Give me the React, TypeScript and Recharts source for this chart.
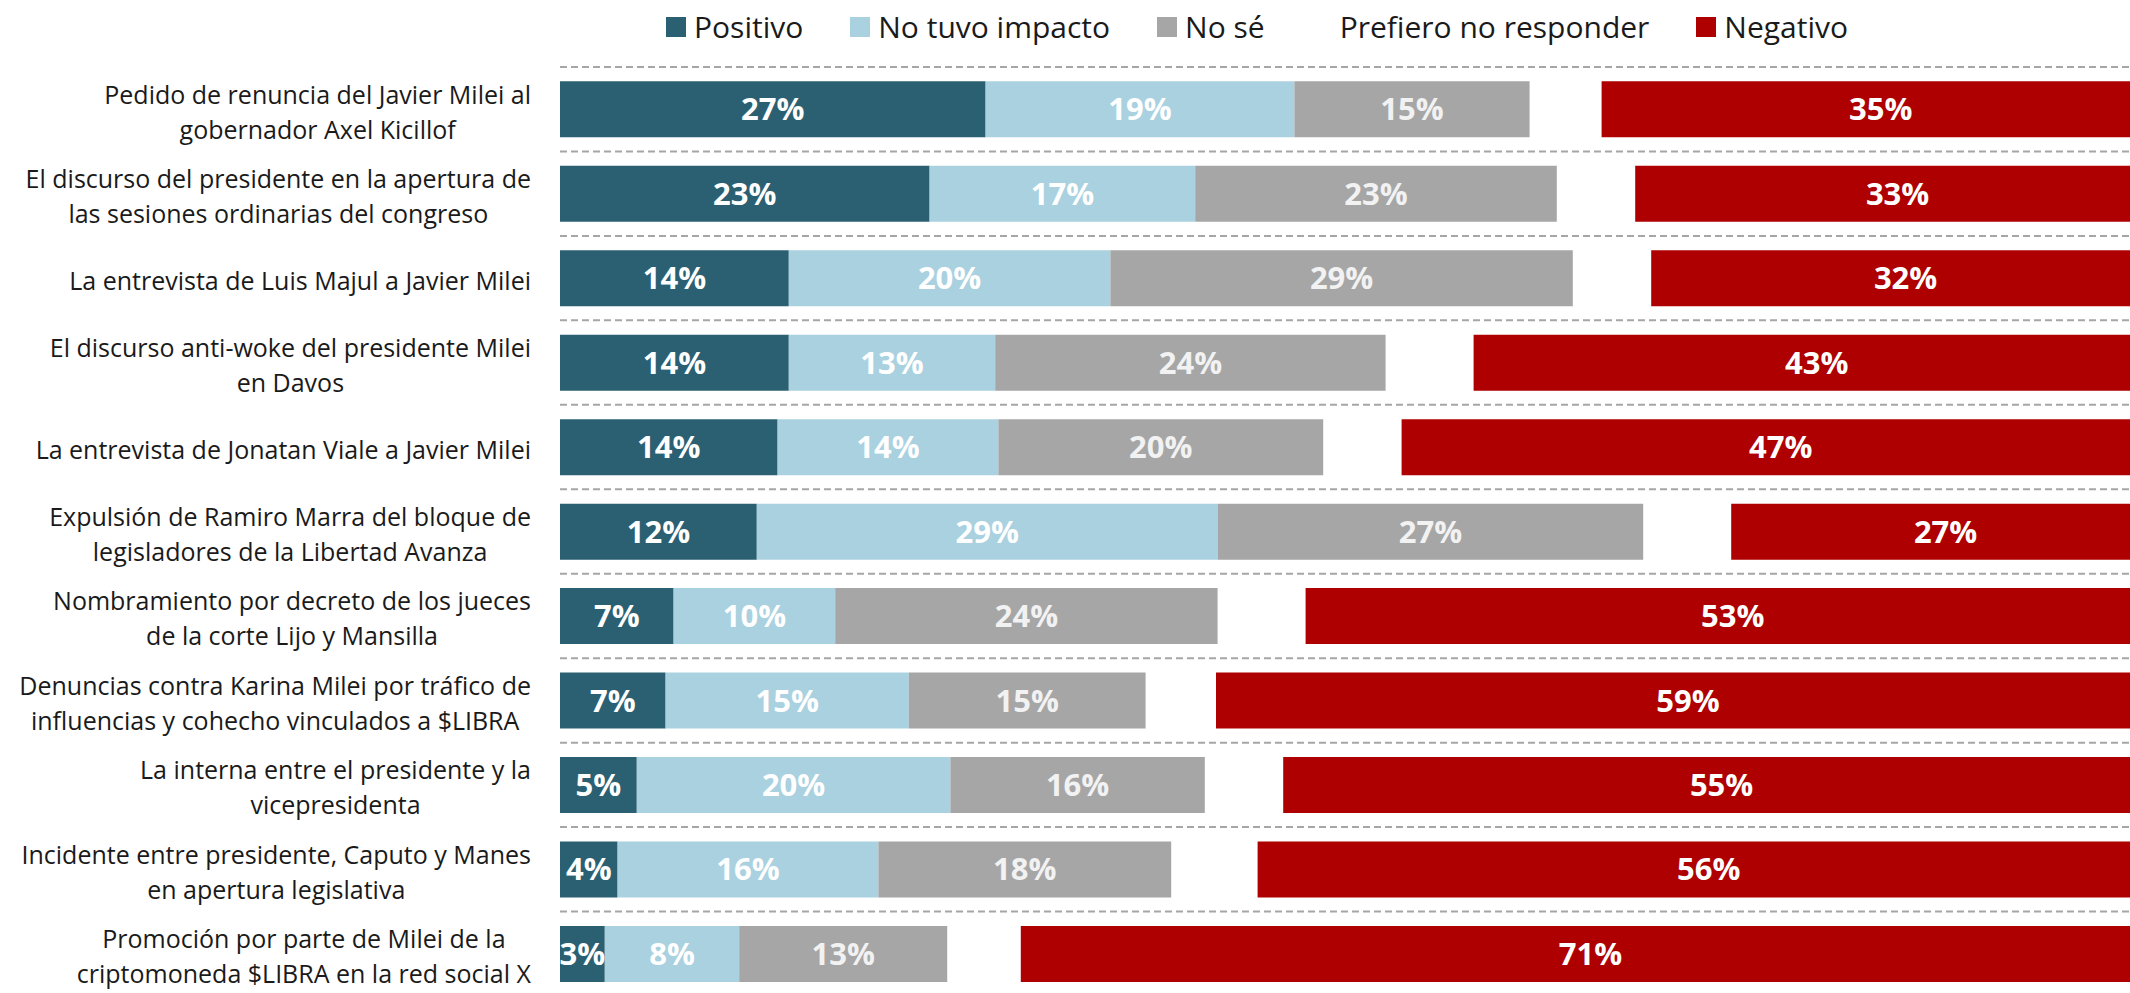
import React from "react";
import { BarChart, Bar, XAxis, YAxis, CartesianGrid, LabelList } from "recharts";

// Events (one per row); "\n" marks where the label wraps
const CATEGORIES = [
    "Pedido de renuncia del Javier Milei al\ngobernador Axel Kicillof",
    "El discurso del presidente en la apertura de\nlas sesiones ordinarias del congreso",
    "La entrevista de Luis Majul a Javier Milei",
    "El discurso anti-woke del presidente Milei\nen Davos",
    "La entrevista de Jonatan Viale a Javier Milei",
    "Expulsión de Ramiro Marra del bloque de\nlegisladores de la Libertad Avanza",
    "Nombramiento por decreto de los jueces\nde la corte Lijo y Mansilla",
    "Denuncias contra Karina Milei por tráfico de\ninfluencias y cohecho vinculados a $LIBRA",
    "La interna entre el presidente y la\nvicepresidenta",
    "Incidente entre presidente, Caputo y Manes\nen apertura legislativa",
    "Promoción por parte de Milei de la\ncriptomoneda $LIBRA en la red social X",
];

// Shares in % (labels show them rounded)
const POSITIVO = [26.6, 23.1, 14.3, 14.3, 13.6, 12.3, 7.1, 6.6, 4.8, 3.6, 2.8];
const NO_TUVO_IMPACTO = [19.3, 16.6, 20.1, 12.9, 13.8, 28.8, 10.1, 15.2, 19.6, 16.3, 8.4];
const NO_SE = [14.7, 22.6, 28.9, 24.4, 20.3, 26.6, 23.9, 14.8, 15.9, 18.3, 13.0];
const PREFIERO_NO_RESPONDER = [4.5, 4.9, 4.9, 5.5, 4.9, 5.5, 5.5, 4.4, 4.9, 5.4, 4.6];
const NEGATIVO = [34.9, 32.8, 31.8, 42.9, 47.4, 26.8, 53.4, 59.0, 54.8, 56.4, 71.2];

const SERIES = [
    { key: "positivo", name: "Positivo", color: "#2B6073", text: "#ffffff", showLabel: true },
    { key: "noImpacto", name: "No tuvo impacto", color: "#AAD1DF", text: "#ffffff", showLabel: true },
    { key: "noSe", name: "No sé", color: "#A6A6A6", text: "#F2F2F2", showLabel: true },
    { key: "prefiero", name: "Prefiero no responder", color: "transparent", text: "none", showLabel: false },
    { key: "negativo", name: "Negativo", color: "#AE0000", text: "#ffffff", showLabel: true },
];

const data = CATEGORIES.map((name, i) => ({
    name,
    positivo: POSITIVO[i],
    noImpacto: NO_TUVO_IMPACTO[i],
    noSe: NO_SE[i],
    prefiero: PREFIERO_NO_RESPONDER[i],
    negativo: NEGATIVO[i],
}));

const FONT = "'Open Sans', 'Noto Sans', sans-serif";
const TICK_SIZE = 25;

// canvas is only used to measure label lines so wrapped labels can be centred as a block
const ctx = typeof document !== "undefined" ? document.createElement("canvas").getContext("2d") : null;
function textWidth(text: string) {
    if (!ctx) return text.length * TICK_SIZE * 0.5;
    ctx.font = `${TICK_SIZE}px ${FONT}`;
    return ctx.measureText(text).width;
}

function CategoryTick(props: any) {
    const { x, y, payload } = props;
    const lines: string[] = String(payload.value).split("\n");
    const blockWidth = Math.max(...lines.map(textWidth));
    const cx = x - blockWidth / 2;
    const lineHeight = 35;
    const startY = y + 2 - ((lines.length - 1) * lineHeight) / 2;
    return (
        <text textAnchor="middle" fontFamily={FONT} fontSize={TICK_SIZE} fill="#1a1a1a">
            {lines.map((line, i) => (
                <tspan key={i} x={cx} y={startY + i * lineHeight} dominantBaseline="central">
                    {line}
                </tspan>
            ))}
        </text>
    );
}

function LegendRow() {
    return (
        <div
            style={{
                position: "absolute",
                left: 666,
                top: 10,
                display: "flex",
                alignItems: "center",
                gap: 47,
                fontFamily: FONT,
                fontSize: 30,
                lineHeight: "34px",
                color: "#1a1a1a",
                whiteSpace: "nowrap",
            }}
        >
            {SERIES.map(s => (
                <div key={s.key} style={{ display: "flex", alignItems: "center", gap: 8 }}>
                    <span style={{ width: 20, height: 20, background: s.color, display: "inline-block" }} />
                    <span>{s.name}</span>
                </div>
            ))}
        </div>
    );
}

export default function App() {
    const bandLines = ({ offset }: any) =>
        CATEGORIES.map((_, i) => offset.top + (i * offset.height) / CATEGORIES.length);

    return (
        <div
            style={{
                position: "absolute",
                left: 0,
                top: 0,
                width: 2130,
                height: 993,
                overflow: "hidden",
                background: "#ffffff",
            }}
        >
            <LegendRow />
            <BarChart
                width={2160}
                height={996}
                data={data}
                layout="vertical"
                margin={{ top: 67, right: 0, bottom: 0, left: 0 }}
                barCategoryGap="17%"
            >
                <CartesianGrid
                    vertical={false}
                    stroke="#A6A6A6"
                    strokeWidth={2}
                    strokeDasharray="7 4"
                    horizontalCoordinatesGenerator={bandLines}
                />
                <XAxis type="number" domain={[0, 100]} hide allowDataOverflow />
                <YAxis
                    type="category"
                    dataKey="name"
                    width={560}
                    axisLine={false}
                    tickLine={false}
                    tickSize={0}
                    tickMargin={29}
                    interval={0}
                    tick={<CategoryTick />}
                />
                {SERIES.map(s => (
                    <Bar
                        key={s.key}
                        dataKey={s.key}
                        name={s.name}
                        stackId="a"
                        fill={s.color}
                        isAnimationActive={false}
                    >
                        {s.showLabel && (
                            <LabelList
                                dataKey={s.key}
                                position="center"
                                formatter={(v: any) => `${Math.round(Number(v))}%`}
                                fill={s.text}
                                fontFamily={FONT}
                                fontWeight={700}
                                fontSize={31}
                            />
                        )}
                    </Bar>
                ))}
            </BarChart>
        </div>
    );
}
